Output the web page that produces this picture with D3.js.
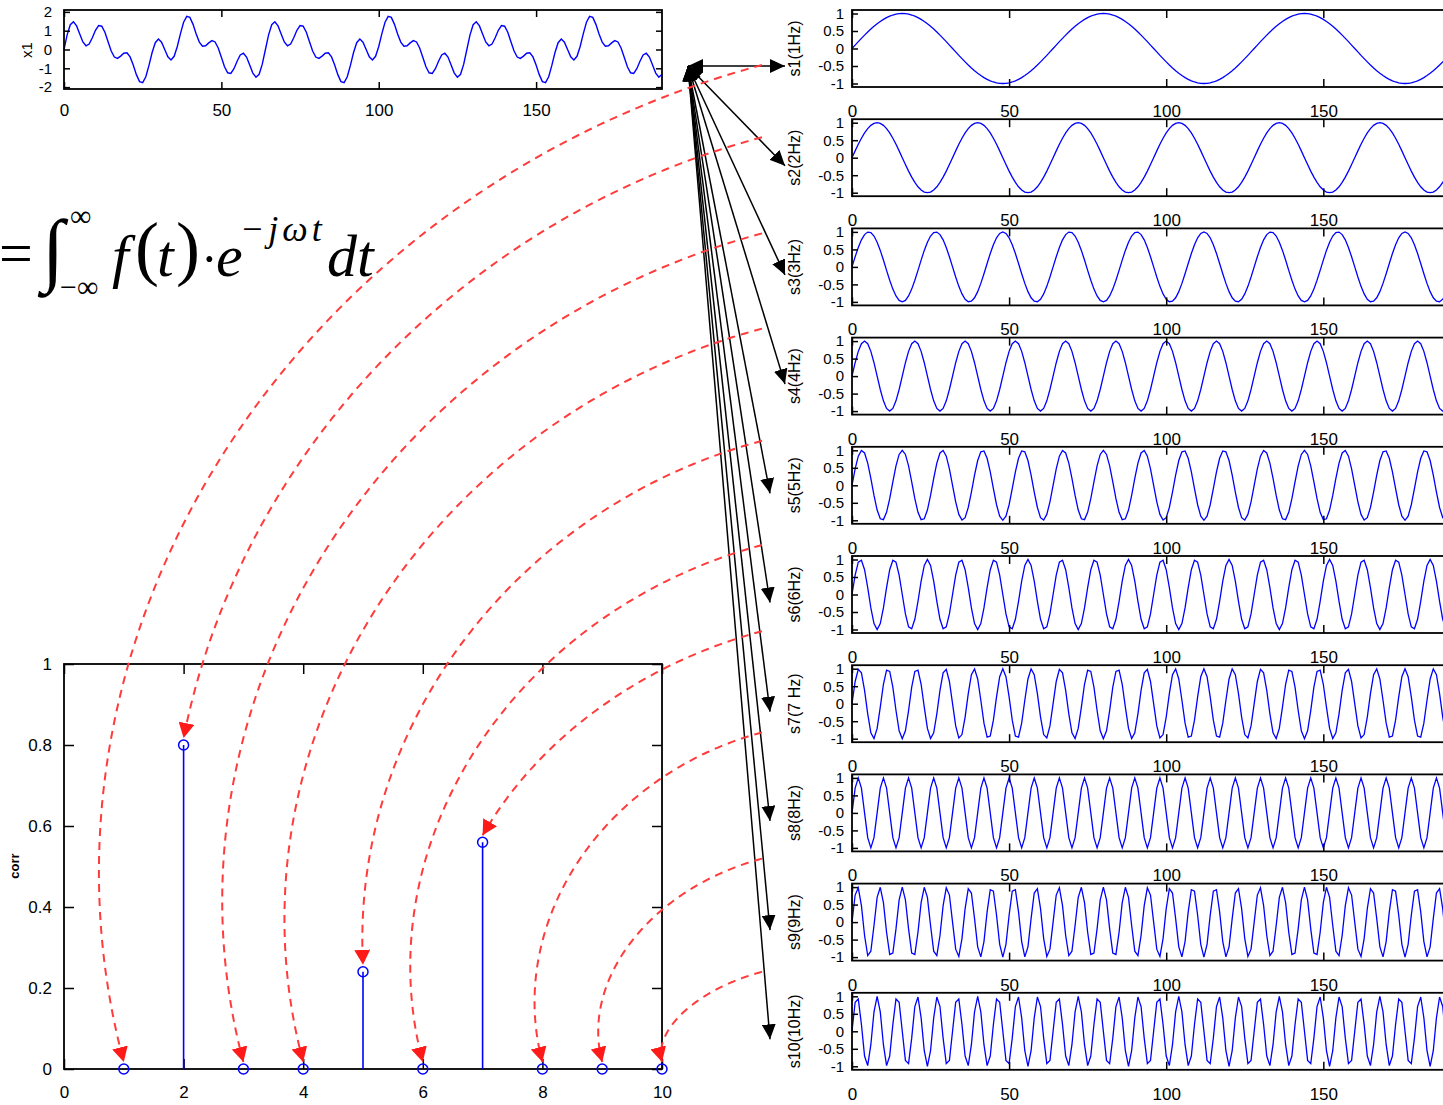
<!DOCTYPE html>
<html>
<head>
<meta charset="utf-8">
<script src="https://cdn.jsdelivr.net/npm/d3@7"></script>
<style>
  body { margin: 0; background: #fff; }
  svg { display: block; }
  text { font-family: "Liberation Sans", Arial, sans-serif; }
</style>
</head>
<body>
<div id="chart"></div>
<script>
// signals are sampled on an index grid 0..190, one 1Hz cycle = 64 samples
var nSamples = 190;
var samplesPerCycle = 64;

// basis signals drawn on the right
var freqs = [1, 2, 3, 4, 5, 6, 7, 8, 9, 10];
var basisLabels = ["s1(1Hz)", "s2(2Hz)", "s3(3Hz)", "s4(4Hz)", "s5(5Hz)", "s6(6Hz)", "s7(7 Hz)", "s8(8Hz)", "s9(9Hz)", "s10(10Hz)"];

// amplitude of every basis component inside x1
var x1Amps = [0, 1, 0, 0, 0.3, 0, 0.7, 0, 0, 0];

// correlation of x1 with each basis signal (stem plot)
var corrValues = [0, 0.8, 0, 0, 0.24, 0, 0.56, 0, 0, 0];

// tick values
var timeTicks = [0, 50, 100, 150];
var basisTicks = [-1, -0.5, 0, 0.5, 1];
var x1Ticks = [-2, -1, 0, 1, 2];
var freqTicks = [0, 2, 4, 6, 8, 10];
var corrTicks = [0, 0.2, 0.4, 0.6, 0.8, 1];

// where each red arc leaves the right column (px from panel top)
var arcStartOffset = [55, 18, 5, -9, -6, -11, -34, -42, -25, -21];

var W = 1443, H = 1105;
var blue = "#0000ff", red = "#ff3b3b";
var fmt = function (d) { return String(d); };

var svg = d3.select("#chart").append("svg")
    .attr("width", W)
    .attr("height", H);

var defs = svg.append("defs");
defs.append("marker")
    .attr("id", "redHead")
    .attr("markerUnits", "userSpaceOnUse")
    .attr("markerWidth", 16).attr("markerHeight", 16)
    .attr("refX", 15).attr("refY", 8)
    .attr("orient", "auto")
    .append("path").attr("d", "M0,0 L15,8 L0,16 Z").attr("fill", "#ff1a1a");
defs.append("marker")
    .attr("id", "blackHead")
    .attr("markerUnits", "userSpaceOnUse")
    .attr("markerWidth", 16).attr("markerHeight", 14)
    .attr("refX", 15).attr("refY", 7)
    .attr("orient", "auto-start-reverse")
    .append("path").attr("d", "M0,0 L15,7 L0,14 Z").attr("fill", "#000");

function samples(fn) {
    return d3.range(0, nSamples + 1).map(function (t) { return { t: t, v: fn(t) }; });
}
function basis(k, t) {
    return Math.sin(2 * Math.PI * k * t / samplesPerCycle);
}

// box with inward ticks on all four sides (matlab look)
function frame(g, x, y, o) {
    var left = x.range()[0], right = x.range()[1];
    var bottom = y.range()[0], top = y.range()[1];

    var ax = g.append("g").attr("transform", "translate(0," + bottom + ")")
        .call(d3.axisBottom(x).tickValues(o.xTicks).tickSize(-o.xLen).tickSizeOuter(0)
            .tickPadding(o.xPad).tickFormat(fmt));
    ax.selectAll("text").style("font-size", o.xFont + "px");
    g.append("g").attr("transform", "translate(0," + top + ")")
        .call(d3.axisTop(x).tickValues(o.xTicks).tickSize(-o.xLen).tickSizeOuter(0).tickFormat(""));
    var ay = g.append("g").attr("transform", "translate(" + left + ",0)")
        .call(d3.axisLeft(y).tickValues(o.yTicks).tickSize(-o.yLen).tickSizeOuter(0)
            .tickPadding(o.yPad).tickFormat(fmt));
    ay.selectAll("text").style("font-size", o.yFont + "px");
    g.append("g").attr("transform", "translate(" + right + ",0)")
        .call(d3.axisRight(y).tickValues(o.yTicks).tickSize(-o.yLen).tickSizeOuter(0).tickFormat(""));

    g.selectAll(".domain").remove();
    g.selectAll(".tick line").attr("stroke", "#000").attr("stroke-width", 1.5);
    g.selectAll(".tick text").attr("fill", "#000");

    g.append("rect")
        .attr("x", left).attr("y", top)
        .attr("width", right - left).attr("height", bottom - top)
        .attr("fill", "none").attr("stroke", "#000").attr("stroke-width", 1.8);
}

// ---------- x1 (top left)
var xT1 = d3.scaleLinear().domain([0, nSamples]).range([64, 662]);
var yX1 = d3.scaleLinear().domain([-2.1, 2.1]).range([89, 10]);
var gX1 = svg.append("g");
var x1Data = samples(function (t) {
    return d3.sum(freqs, function (k, i) { return x1Amps[i] * basis(k, t); });
});
gX1.append("path")
    .datum(x1Data)
    .attr("fill", "none").attr("stroke", blue).attr("stroke-width", 1.4)
    .attr("d", d3.line().x(function (d) { return xT1(d.t); }).y(function (d) { return yX1(d.v); }));
frame(gX1, xT1, yX1, { xTicks: timeTicks, yTicks: x1Ticks, xLen: 7, yLen: 6, xPad: 15, yPad: 12, xFont: 17, yFont: 15 });
gX1.append("text")
    .attr("transform", "translate(32,50) rotate(-90)")
    .attr("text-anchor", "middle").style("font-size", "15px").text("x1");

// ---------- basis panels (right column)
var panelLeft = 852, panelRight = 1449, panelTop0 = 10, panelStep = 109.2, panelH = 77;
var xTR = d3.scaleLinear().domain([0, nSamples]).range([panelLeft, panelRight]);
var panels = freqs.map(function (k, i) {
    var top = panelTop0 + i * panelStep;
    return { k: k, i: i, top: top, y: d3.scaleLinear().domain([-1.1, 1.1]).range([top + panelH, top]) };
});

panels.forEach(function (p) {
    var g = svg.append("g");
    g.append("path")
        .datum(samples(function (t) { return basis(p.k, t); }))
        .attr("fill", "none").attr("stroke", blue).attr("stroke-width", 1.3)
        .attr("d", d3.line().x(function (d) { return xTR(d.t); }).y(function (d) { return p.y(d.v); }));
    frame(g, xTR, p.y, { xTicks: timeTicks, yTicks: basisTicks, xLen: 8, yLen: 6, xPad: 18, yPad: 8, xFont: 17, yFont: 15 });
    g.append("text")
        .attr("transform", "translate(" + (panelLeft - 52) + "," + (p.top + panelH / 2) + ") rotate(-90)")
        .attr("text-anchor", "middle").style("font-size", "16px").text(basisLabels[p.i]);
});

// ---------- stem plot (bottom left)
var xF = d3.scaleLinear().domain([0, 10]).range([64, 662]);
var yC = d3.scaleLinear().domain([0, 1]).range([1069, 664]);
var gS = svg.append("g");
frame(gS, xF, yC, { xTicks: freqTicks, yTicks: corrTicks, xLen: 10, yLen: 10, xPad: 17, yPad: 12, xFont: 17, yFont: 17 });
gS.append("text")
    .attr("transform", "translate(19,866) rotate(-90)")
    .attr("text-anchor", "middle").style("font-size", "13px").style("font-weight", "bold").text("corr");

var stems = freqs.map(function (k, i) { return { k: k, v: corrValues[i] }; });
gS.selectAll("line.stem").data(stems.filter(function (d) { return d.v > 0; }))
    .enter().append("line").attr("class", "stem")
    .attr("x1", function (d) { return xF(d.k); }).attr("x2", function (d) { return xF(d.k); })
    .attr("y1", yC(0)).attr("y2", function (d) { return yC(d.v); })
    .attr("stroke", blue).attr("stroke-width", 1.6);
gS.selectAll("circle").data(stems)
    .enter().append("circle")
    .attr("cx", function (d) { return xF(d.k); })
    .attr("cy", function (d) { return yC(d.v); })
    .attr("r", 5)
    .attr("fill", "none").attr("stroke", blue).attr("stroke-width", 1.5);

// ---------- formula
var eq = svg.append("g");
function eqText(x, y, size, txt, italic, spacing) {
    eq.append("text").attr("x", x).attr("y", y)
        .style("font-family", '"Liberation Serif", "Times New Roman", serif')
        .style("font-size", size + "px")
        .style("font-style", italic ? "italic" : "normal")
        .style("letter-spacing", (spacing || 0) + "px")
        .text(txt);
}
eqText(-1, 273, 60, "=");
eqText(42, 276, 81, "\u222B");
eqText(70, 226, 30, "\u221E");
eqText(60, 297, 30, "\u2212\u221E");
eqText(112, 276, 60, "f", true);
eqText(135, 272, 72, "(");
eqText(157, 276, 60, "t", true);
eqText(176, 272, 72, ")");
eqText(201, 276, 50, "\u00B7");
eqText(216, 276, 60, "e", true);
eqText(240, 241, 36, "\u2212j\u03C9t", true, 4);
eqText(327, 276, 60, "dt", true);

// ---------- black arrows: origin -> each basis panel
var origin = [688, 66];
var gA = svg.append("g");
panels.forEach(function (p) {
    var tipX = p.i < 4 ? panelLeft - 67 : panelLeft - 82;
    var tipY = p.i === 0 ? origin[1] : p.top + panelH / 2 + 8;
    gA.append("line")
        .attr("x1", origin[0]).attr("y1", origin[1])
        .attr("x2", tipX).attr("y2", tipY)
        .attr("stroke", "#000").attr("stroke-width", 1.5)
        .attr("marker-start", "url(#blackHead)")
        .attr("marker-end", "url(#blackHead)");
});

// ---------- red dashed arcs: each basis panel -> its stem
var phi = 15 * Math.PI / 180, cphi = Math.cos(phi), sphi = Math.sin(phi);
function arcPoints(S, E) {
    var dx = E[0] - S[0], dy = E[1] - S[1];
    var A = -(cphi * dx - sphi * dy), B = sphi * dx + cphi * dy;
    return d3.range(0, 161).map(function (i) {
        var th = i / 160 * Math.PI / 2;
        var lx = -A * Math.sin(th), ly = B * (1 - Math.cos(th));
        return [S[0] + cphi * lx + sphi * ly, S[1] - sphi * lx + cphi * ly];
    });
}
function arcTo(S, tx, ty, baseY) {
    if (ty >= baseY - 0.5) return arcPoints(S, [tx, baseY]);
    var ex = tx, pts, cut;
    for (var it = 0; it < 40; it++) {
        pts = arcPoints(S, [ex, baseY]);
        cut = pts.findIndex(function (p) { return p[1] >= ty; });
        var a = pts[cut - 1], b = pts[cut];
        var f = (ty - a[1]) / (b[1] - a[1]);
        ex += tx - (a[0] + f * (b[0] - a[0]));
    }
    pts = pts.slice(0, cut);
    pts.push([tx, ty]);
    return pts;
}
var gR = svg.append("g");
var gap = 7;
stems.forEach(function (d, i) {
    var S = [panelLeft - 90, panels[i].top + arcStartOffset[i]];
    var pts = arcTo(S, xF(d.k), yC(d.v) - gap, yC(0) - gap);
    gR.append("path")
        .attr("d", d3.line()(pts))
        .attr("fill", "none").attr("stroke", red).attr("stroke-width", 2)
        .attr("stroke-dasharray", "8,6")
        .attr("marker-end", "url(#redHead)");
});
</script>
</body>
</html>
